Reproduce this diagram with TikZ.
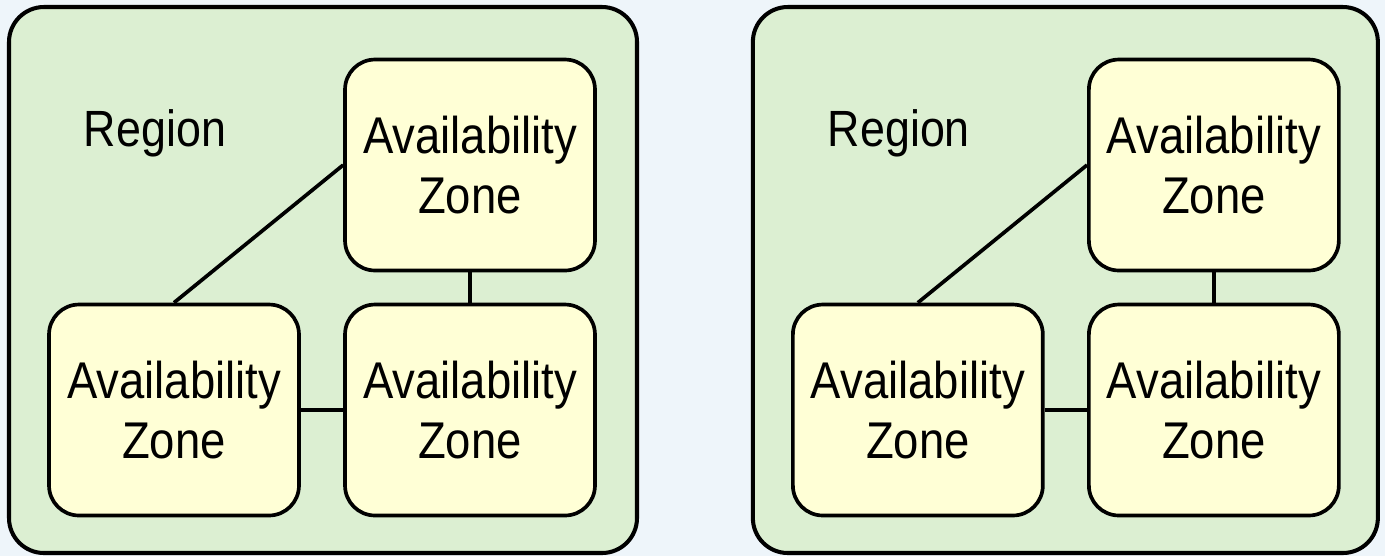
\documentclass[tikz,border=0pt]{standalone}
\usepackage{fontspec}
\usepackage{xcolor}
\usepackage{tikz}
\usetikzlibrary{positioning}

\newfontfamily\azfont[FakeStretch=0.88]{Liberation Sans}

\definecolor{pagebg}{HTML}{EEF5FA}
\definecolor{regionfill}{HTML}{DCEFD2}
\definecolor{zonefill}{HTML}{FFFFD6}

\tikzset{
  regionbox/.style={draw=black, fill=regionfill, line width=2.3pt, rounded corners=0.7cm},
  zonebox/.style={draw=black, fill=zonefill, line width=2.1pt, rounded corners=0.6cm,
    minimum width=5cm, minimum height=4.22cm, align=center, inner sep=0pt,
    font=\azfont\fontsize{29.4}{34.1}\selectfont},
  zonelink/.style={draw=black, line width=2.1pt},
  regionlabel/.style={font=\azfont\fontsize{29}{33}\selectfont, inner sep=0pt}
}

\begin{document}
\begin{tikzpicture}[x=0.02cm, y=-0.02cm]

\useasboundingbox[fill=pagebg] (0, 0) rectangle (1385, 556);

% ==================== LEFT REGION ====================
\begin{scope}[xshift=0cm]
  \draw[regionbox] (9, 7) rectangle (637, 553);
  \node[regionlabel] (regionL) at (155, 133) {Region};

  % Zones
  \node[zonebox] (topL) at (470, 165) {Availability\\Zone};
  \node[zonebox] (leftL) at (174, 410) {Availability\\Zone};
  \node[zonebox] (rightL) at (470, 410) {Availability\\Zone};

  % Links
  \draw[zonelink] (leftL.north) -- (topL.west);
  \draw[zonelink] (topL.south) -- (rightL.north);
  \draw[zonelink] (leftL.east) -- (rightL.west);
\end{scope}

% ==================== RIGHT REGION ====================
\begin{scope}[xshift=14.88cm]
  \draw[regionbox] (9, 7) rectangle (634, 553);
  \node[regionlabel] (regionR) at (155, 133) {Region};

  % Zones
  \node[zonebox] (topR) at (470, 165) {Availability\\Zone};
  \node[zonebox] (leftR) at (174, 410) {Availability\\Zone};
  \node[zonebox] (rightR) at (470, 410) {Availability\\Zone};

  % Links
  \draw[zonelink] (leftR.north) -- (topR.west);
  \draw[zonelink] (topR.south) -- (rightR.north);
  \draw[zonelink] (leftR.east) -- (rightR.west);
\end{scope}

\end{tikzpicture}
\end{document}
